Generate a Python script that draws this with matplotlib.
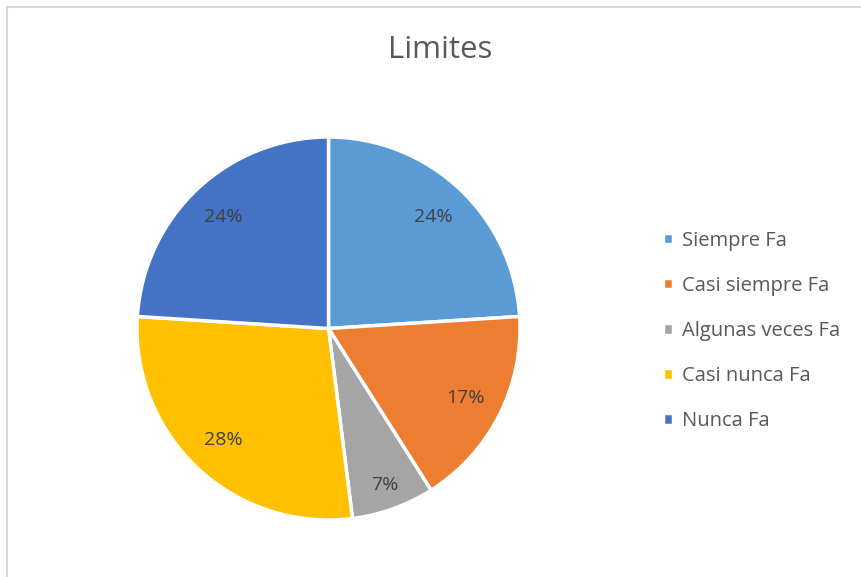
import matplotlib.pyplot as plt
from matplotlib.lines import Line2D

categories = ["Siempre Fa", "Casi siempre Fa", "Algunas veces Fa", "Casi nunca Fa", "Nunca Fa"]
values = [24, 17, 7, 28, 24]
colors = ["#5B9BD5", "#ED7D31", "#A5A5A5", "#FFC000", "#4472C4"]

plt.rcParams['font.family'] = ['Open Sans', 'DejaVu Sans']

W, H = 861, 577
fig = plt.figure(figsize=(W / 100, H / 100), dpi=100)

# pie axes: centre ~ (328.5, 328.5) px, radius ~191.5 px
cx, cy, r = 328.5, 328.5, 191.5
ax = fig.add_axes([(cx - r) / W, (H - cy - r) / H, 2 * r / W, 2 * r / H])

wedges, texts, autotexts = ax.pie(
    values, colors=colors, startangle=90, counterclock=False,
    autopct='%1.0f%%', pctdistance=0.8,
    wedgeprops=dict(edgecolor='white', linewidth=2.5),
    textprops=dict(color='#404040', fontsize=14))
ax.set_xlim(-1, 1)
ax.set_ylim(-1, 1)
ax.set_aspect('equal')
ax.axis('off')

# small slice label sits a bit further out
x, y = autotexts[2].get_position()
autotexts[2].set_position((x * 0.87 / 0.8, y * 0.87 / 0.8))

fig.text(440 / W, 1 - 50 / H, "Limites", ha='center', va='center',
         fontsize=22.5, color='#595959')

fig.legend(wedges, categories, loc='center left',
           bbox_to_anchor=(645 / W, 1 - 331 / H), frameon=False,
           fontsize=14.5, labelcolor='#595959',
           handlelength=0.5, handleheight=0.5, handletextpad=0.45,
           labelspacing=1.25)

# chart border (only top and left edges visible)
fig.add_artist(Line2D([7 / W, 1], [1 - 7 / H, 1 - 7 / H], color='#D9D9D9', lw=1.5,
                      transform=fig.transFigure))
fig.add_artist(Line2D([7 / W, 7 / W], [0, 1 - 7 / H], color='#D9D9D9', lw=1.5,
                      transform=fig.transFigure))

fig.savefig("out.png", dpi=100, facecolor='white')
